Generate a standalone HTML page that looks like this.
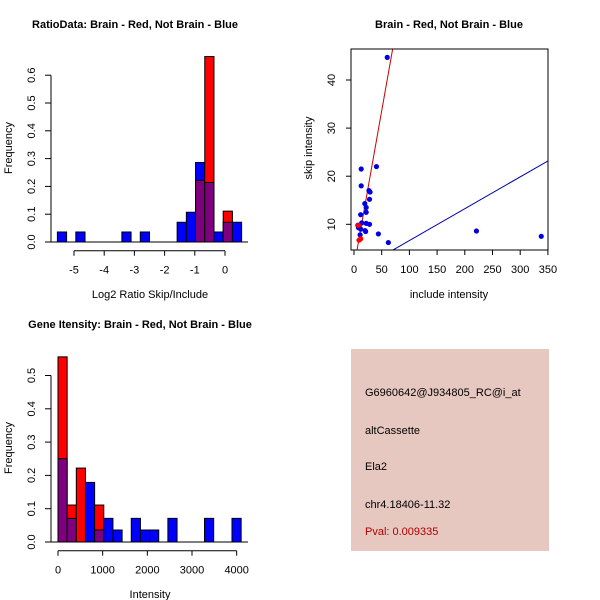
<!DOCTYPE html>
<html><head><meta charset="utf-8"><style>
body{margin:0;background:#fff}
svg{display:block;font-family:"Liberation Sans",sans-serif}
</style></head><body>
<svg id="c" width="600" height="600" xmlns="http://www.w3.org/2000/svg">
<rect x="351" y="349" width="198" height="202" fill="#e6c8c0"/>
<g font-size="11">
<text x="365" y="396">G6960642@J934805_RC@i_at</text>
<text x="365" y="434">altCassette</text>
<text x="365" y="470">Ela2</text>
<text x="365" y="508">chr4.18406-11.32</text>
<text x="365" y="535" fill="#b00000">Pval: 0.009335</text>
</g>
</svg>
<script>
// Panel 1: ratio histogram
const ratioBinStart = -5.55;
const ratioBinWidth = 0.305;
const ratioBlue = [0.036,0,0.036,0,0,0,0,0.036,0,0.036,0,0,0,0.071,0.107,0.286,0.214,0.036,0.071,0.071];
const ratioRed  = [0,0,0,0,0,0,0,0,0,0,0,0,0,0,0,0.222,0.667,0,0.111,0];
const ratioXTicks = [-5,-4,-3,-2,-1,0];
const ratioYTicks = [0,0.1,0.2,0.3,0.4,0.5,0.6];
// Panel 2: scatter
const scatterX = [60,13,40.5,13,27,29,28,19.5,22,22,12,14,22,28,7,8,12,20,21,11,44,62,221,338];
const scatterY = [44.7,21.5,22,18,17,16.7,15.2,14.3,13.5,12.5,12,10.3,10.2,10,9.8,9.3,9,8.7,8.5,7.8,8,6.2,8.6,7.5];
const scatterRedX = [9,12,8];
const scatterRedY = [6.7,7,9.8];
const redFit = [0.65,1.1];
const blueFit = [0.0662,0];
const scatterXTicks = [0,50,100,150,200,250,300,350];
const scatterYTicks = [10,20,30,40];
// Panel 3: intensity histogram
const intBinStart = 0;
const intBinWidth = 205;
const intBlue = [0.25,0.071,0,0.179,0.036,0.071,0.036,0,0.071,0.036,0.036,0,0.071,0,0,0,0.071,0,0,0.071];
const intRed  = [0.556,0.111,0.222,0,0.111,0,0,0,0,0,0,0,0,0,0,0,0,0,0,0];
const intXTicks = [0,1000,2000,3000,4000];
const intYTicks = [0,0.1,0.2,0.3,0.4,0.5];

const NS='http://www.w3.org/2000/svg';
const svg=document.getElementById('c');
function mk(tag,attrs,parent){const e=document.createElementNS(NS,tag);for(const k in attrs)e.setAttribute(k,attrs[k]);(parent||svg).appendChild(e);return e;}
function txt(s,attrs,parent){const e=mk('text',attrs,parent);e.textContent=s;return e;}

function hist(o){
  const g=mk('g',{});
  
  
  const sx=v=>o.x0px+(v-o.x0)*o.kx, sy=v=>o.y0px-v*o.ky;
  txt(o.title,{x:o.tx,y:28+o.oy,'text-anchor':'middle','font-size':11,'font-weight':'bold'},g);
  for(let i=0;i<o.blue.length;i++){
    const a=o.binStart+i*o.bw,b=a+o.bw,bl=o.blue[i],rd=o.red[i];
    const m=Math.min(bl,rd),mx=Math.max(bl,rd);
    if(mx<=0)continue;
    const col=bl>rd?'#0000ff':'#ff0000';
    const r1=mk('rect',{x:sx(a),y:sy(mx),width:sx(b)-sx(a),height:sy(0)-sy(mx),fill:col,stroke:'#000','stroke-width':1},g);
    
    
    if(m>0){const r2=mk('rect',{x:sx(a),y:sy(m),width:sx(b)-sx(a),height:sy(0)-sy(m),fill:'#7f007f',stroke:'#000','stroke-width':1},g);
      
      }
  }
  mk('line',{x1:51,x2:248,y1:sy(0),y2:sy(0),stroke:'#000'},g);
  const ya=mk('g',{},g);
  
  
  mk('line',{x1:51,x2:51,y1:sy(o.yt[0]),y2:sy(o.yt[o.yt.length-1]),stroke:'#000'},ya);
  o.yt.forEach(t=>{mk('line',{x1:45,x2:51,y1:sy(t),y2:sy(t),stroke:'#000'},ya);
    txt(t.toFixed(1),{x:0,y:0,'text-anchor':'middle','font-size':11,transform:`translate(35,${sy(t)}) rotate(-90)`},ya);});
  const xa=mk('g',{},g);
  
  
  const ay=sy(0)+8.7;
  mk('line',{x1:sx(o.xt[0]),x2:sx(o.xt[o.xt.length-1]),y1:ay,y2:ay,stroke:'#000'},xa);
  o.xt.forEach(t=>{mk('line',{x1:sx(t),x2:sx(t),y1:ay,y2:ay+5,stroke:'#000'},xa);
    txt(String(t),{x:sx(t),y:ay+23,'text-anchor':'middle','font-size':11},xa);});
  txt(o.xl,{x:150,y:sy(0)+56,'text-anchor':'middle','font-size':11},g);
  txt('Frequency',{x:0,y:0,'text-anchor':'middle','font-size':11,transform:`translate(12,${o.oy+148}) rotate(-90)`},g);
}
hist({name:'ratio-histogram',title:'RatioData: Brain - Red, Not Brain - Blue',tx:135,oy:0,x0:0,x0px:225,kx:30.2,y0px:242,ky:278,
  binStart:ratioBinStart,bw:ratioBinWidth,blue:ratioBlue,red:ratioRed,xt:ratioXTicks,yt:ratioYTicks,xl:'Log2 Ratio Skip/Include'});
hist({name:'intensity-histogram',title:'Gene Itensity: Brain - Red, Not Brain - Blue',tx:140,oy:300,x0:0,x0px:58,kx:0.04467,y0px:542,ky:333,
  binStart:intBinStart,bw:intBinWidth,blue:intBlue,red:intRed,xt:intXTicks,yt:intYTicks,xl:'Intensity'});

// scatter
(function(){
  const g=mk('g',{});
  
  
  const sx=v=>354+v*0.554, sy=v=>272.4-v*4.81;
  txt('Brain - Red, Not Brain - Blue',{x:449,y:28,'text-anchor':'middle','font-size':11,'font-weight':'bold'},g);
  const defs=mk('defs',{},g);
  const cp=mk('clipPath',{id:'clip'},defs);
  mk('rect',{x:351,y:49,width:197,height:201},cp);
  const lines=mk('g',{'clip-path':'url(#clip)'},g);
  [[redFit,'#cc0000','red-fit-line'],[blueFit,'#0000aa','blue-fit-line']].forEach(([f,c,n])=>{
    const l=mk('line',{x1:sx(0),y1:sy(f[1]),x2:sx(360),y2:sy(f[0]*360+f[1]),stroke:c,'stroke-width':1},lines);
    
    
  });
  scatterX.forEach((x,i)=>{const c=mk('circle',{cx:sx(x),cy:sy(scatterY[i]),r:2.6,fill:'#0000e0'},g);
    
    });
  scatterRedX.forEach((x,i)=>{const c=mk('circle',{cx:sx(x),cy:sy(scatterRedY[i]),r:2.6,fill:'#ff0000'},g);
    
    });
  const fr=mk('rect',{x:351,y:49,width:197,height:201,fill:'none',stroke:'#000'},g);
  
  
  const xa=mk('g',{},g);
  
  
  scatterXTicks.forEach(t=>{mk('line',{x1:sx(t),x2:sx(t),y1:250,y2:255,stroke:'#000'},xa);
    txt(String(t),{x:sx(t),y:273,'text-anchor':'middle','font-size':11},xa);});
  const ya=mk('g',{},g);
  
  
  scatterYTicks.forEach(t=>{mk('line',{x1:346,x2:351,y1:sy(t),y2:sy(t),stroke:'#000'},ya);
    txt(String(t),{x:0,y:0,'text-anchor':'middle','font-size':11,transform:`translate(335,${sy(t)}) rotate(-90)`},ya);});
  txt('include intensity',{x:449,y:298,'text-anchor':'middle','font-size':11},g);
  txt('skip intensity',{x:0,y:0,'text-anchor':'middle','font-size':11,transform:'translate(312,148) rotate(-90)'},g);
})();
</script>
</body></html>
